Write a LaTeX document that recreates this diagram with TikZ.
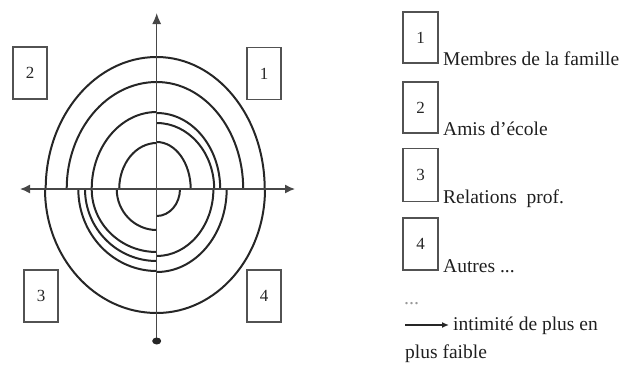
\documentclass[tikz,border=0pt]{standalone}
\usepackage{fontspec}
\setmainfont{Liberation Serif}
\usetikzlibrary{arrows.meta}
\begin{document}
\begin{tikzpicture}[x=1pt,y=-1pt,
  arcline/.style={draw=black!85,line width=2pt},
  axisline/.style={draw=black!72,line width=1.4pt},
  numbox/.style={draw=black!68,line width=1.2pt,minimum width=34pt,minimum height=52pt,inner sep=0pt,font=\fontsize{17}{17}\selectfont,text=black!85},
  legtext/.style={anchor=base west,inner sep=0pt,font=\fontsize{19.5}{20}\selectfont,text=black!88}]
\useasboundingbox (0,0) rectangle (620,378);
\coordinate (O) at (156.7,189);
\coordinate (top) at (156.7,13);
\coordinate (bot) at (156.7,341);
\coordinate (left) at (20,189);
\coordinate (right) at (295,189);
% arcs
\foreach \a/\b in {111/132,90/107,65/77,37.5/46}
  \draw[arcline] ([xshift=-\a pt]O) arc[start angle=180,end angle=90,x radius=\a pt,y radius=\b pt];
\foreach \a/\b in {108/132,86.5/107,63.5/76,57.5/66,34/47}
  \draw[arcline] ([xshift=\a pt]O) arc[start angle=0,end angle=90,x radius=\a pt,y radius=\b pt];
\foreach \a/\b in {111.7/124,78.4/82,71.7/72,65/63,40/41}
  \draw[arcline] ([xshift=-\a pt]O) arc[start angle=180,end angle=270,x radius=\a pt,y radius=\b pt];
\foreach \a/\b in {108.3/124,70/83,56.7/67,23.3/27}
  \draw[arcline] ([xshift=\a pt]O) arc[start angle=0,end angle=-90,x radius=\a pt,y radius=\b pt];
% axes
\draw[axisline,-{Latex[length=11pt,width=9pt]}] (bot) -- (top);
\draw[axisline,{Latex[length=10pt,width=9pt]}-{Latex[length=10pt,width=9pt]}] (left) -- (right);
\fill[black!85] (bot) ellipse[x radius=4.5pt,y radius=3.5pt];
% quadrant boxes
\node[numbox] (b2) at (30,73) {2};
\node[numbox] (b1) at (264,73.5) {1};
\node[numbox] (b3) at (41,296) {3};
\node[numbox] (b4) at (264,296) {4};
% legend
\node[numbox,minimum width=35pt,minimum height=51pt] (l1) at (420.5,37.5) {1};
\node[numbox,minimum width=35pt,minimum height=51pt] (l2) at (420.5,107.5) {2};
\node[numbox,minimum width=35pt,minimum height=53pt] (l3) at (420.5,175) {3};
\node[numbox,minimum width=35pt,minimum height=52pt] (l4) at (420.5,244) {4};
\node[legtext] (t1) at (443,65) {Membres de la famille};
\node[legtext] (t2) at (443,135) {Amis d'école};
\node[legtext] (t3) at (443,203) {Relations~~prof.};
\node[legtext] (t4) at (443,272) {Autres ...};
\node[anchor=base west,inner sep=0pt,text=black!40,font=\fontsize{20}{20}\selectfont] (dots) at (404,304) {...};
\coordinate (a0) at (405,325);
\coordinate (a1) at (449,325);
\draw[axisline,black!85,-{Latex[length=7pt,width=6pt]}] (a0) -- (a1);
\node[legtext] (t5) at (453,330) {intimité de plus en};
\node[legtext] (t6) at (405,358) {plus faible};
\end{tikzpicture}
\end{document}
